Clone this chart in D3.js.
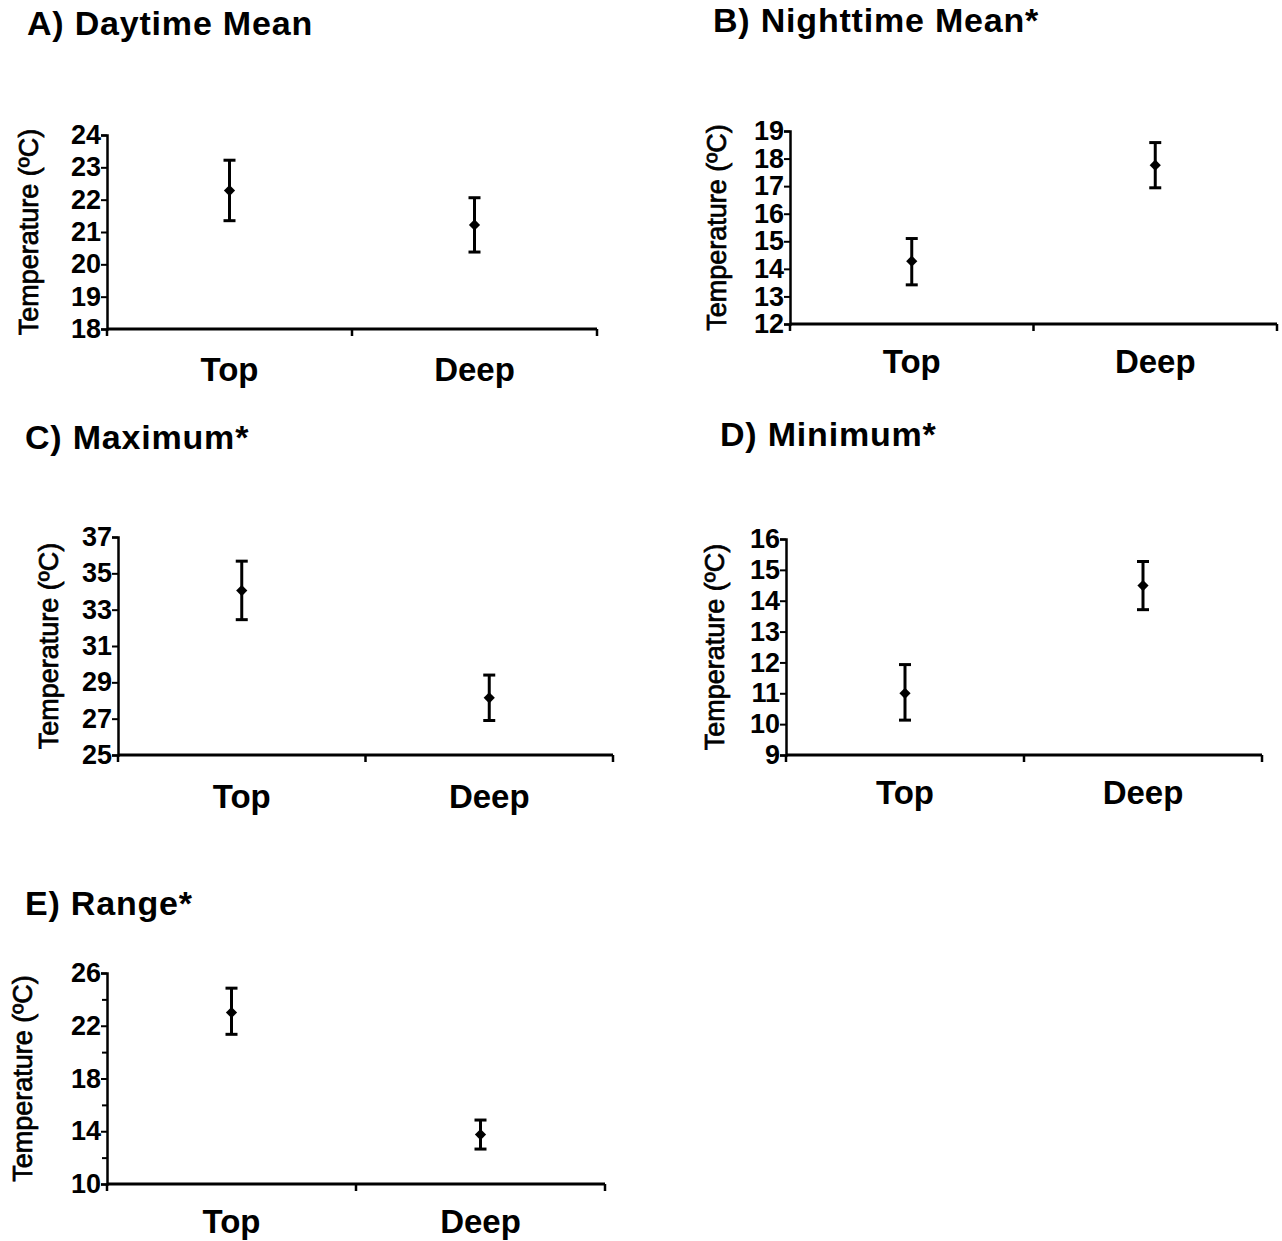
<!DOCTYPE html>
<html>
<head>
<meta charset="utf-8">
<script src="https://cdn.jsdelivr.net/npm/d3@7"></script>
<style>
  body { margin: 0; background: #fff; }
  svg { display: block; }
  text { font-family: "Liberation Sans", Arial, sans-serif; fill: #000; }
</style>
</head>
<body>
<div id="chart"></div>
<script>
// ---- data ----
const categories = ["Top", "Deep"];
const titles = ["A)  Daytime Mean", "B) Nighttime Mean*", "C)  Maximum*", "D) Minimum*", "E)  Range*"];
const means = [[22.28, 21.22], [14.28, 17.76], [34.05, 28.15], [11.0, 14.49], [23.0, 13.75]];
const errTop = [[23.22, 22.06], [15.1, 18.58], [35.67, 29.4], [11.93, 15.27], [24.85, 14.85]];
const errLow = [[21.35, 20.38], [13.42, 16.94], [32.45, 26.9], [10.13, 13.71], [21.35, 12.65]];
const yDomains = [[18, 24], [12, 19], [25, 37], [9, 16], [10, 26]];
const yTicks = [
  [18, 19, 20, 21, 22, 23, 24],
  [12, 13, 14, 15, 16, 17, 18, 19],
  [25, 27, 29, 31, 33, 35, 37],
  [9, 10, 11, 12, 13, 14, 15, 16],
  [10, 14, 18, 22, 26]
];
const yMinorTicks = [[], [], [], [], [12, 16, 20, 24]];
const yLabel = "Temperature (ºC)";

// ---- panel layout (pixels) ----
const panels = [
  { x0: 107, x1: 597, yTop: 135, yBot: 329, tx: 27, ty: 35, lx: 28, catY: 381 },
  { x0: 790, x1: 1277, yTop: 131, yBot: 324, tx: 713, ty: 32, lx: 716, catY: 373 },
  { x0: 118, x1: 613, yTop: 537, yBot: 755, tx: 25, ty: 449, lx: 48, catY: 808 },
  { x0: 786, x1: 1262, yTop: 539, yBot: 755, tx: 720, ty: 446, lx: 714, catY: 804 },
  { x0: 107, x1: 605, yTop: 973, yBot: 1184, tx: 25, ty: 915, lx: 22, catY: 1233 }
];

const svg = d3.select("#chart").append("svg")
  .attr("width", 1282)
  .attr("height", 1241);

panels.forEach(function(p, i) {
  const g = svg.append("g");

  const x = d3.scaleBand().domain(categories).range([p.x0, p.x1]).padding(0);
  const y = d3.scaleLinear().domain(yDomains[i]).range([p.yBot, p.yTop]);

  // title
  g.append("text")
    .attr("x", p.tx).attr("y", p.ty)
    .style("font-size", "34px").style("font-weight", "bold")
    .style("letter-spacing", "0.8px")
    .text(titles[i]);

  // y axis
  const yAxis = g.append("g")
    .attr("transform", "translate(" + p.x0 + ",0)")
    .call(d3.axisLeft(y).tickValues(yTicks[i]).tickSize(6).tickPadding(0).tickFormat(d3.format("d")));
  yAxis.select(".domain").attr("stroke-width", 2.5);
  yAxis.selectAll(".tick line").attr("stroke-width", 2);
  yAxis.selectAll(".tick text")
    .style("font-size", "27px").style("font-weight", "bold")
    .attr("fill", "#000");

  if (yMinorTicks[i].length) {
    const minor = g.append("g")
      .attr("transform", "translate(" + p.x0 + ",0)")
      .call(d3.axisLeft(y).tickValues(yMinorTicks[i]).tickSize(5).tickFormat(""));
    minor.select(".domain").remove();
    minor.selectAll(".tick line").attr("stroke-width", 2);
  }

  // x axis: baseline with ticks at band edges
  g.append("line")
    .attr("x1", p.x0).attr("x2", p.x1)
    .attr("y1", p.yBot).attr("y2", p.yBot)
    .attr("stroke", "#000").attr("stroke-width", 3);
  const edges = [p.x0, x(categories[1]), p.x1];
  g.selectAll(".xtick").data(edges).join("line")
    .attr("class", "xtick")
    .attr("x1", d => d).attr("x2", d => d)
    .attr("y1", p.yBot).attr("y2", p.yBot + 7)
    .attr("stroke", "#000").attr("stroke-width", 2.5);

  // category labels
  g.selectAll(".cat").data(categories).join("text")
    .attr("class", "cat")
    .attr("x", d => x(d) + x.bandwidth() / 2)
    .attr("y", p.catY)
    .attr("text-anchor", "middle")
    .style("font-size", "33px").style("font-weight", "bold")
    .text(d => d);

  // y label
  const cy = (p.yTop + p.yBot) / 2;
  g.append("text")
    .attr("transform", "translate(" + (p.lx + 10) + "," + cy + ") rotate(-90)")
    .attr("text-anchor", "middle")
    .style("font-size", "27px")
    .attr("stroke", "#000").attr("stroke-width", 0.7)
    .text(yLabel);

  // error bars + means
  const rows = categories.map(function(c, j) {
    return { cat: c, mean: means[i][j], hi: errTop[i][j], lo: errLow[i][j] };
  });
  const cx = d => x(d.cat) + x.bandwidth() / 2;
  const bars = g.selectAll(".bar").data(rows).join("g").attr("class", "bar");
  bars.append("line")
    .attr("x1", cx).attr("x2", cx)
    .attr("y1", d => y(d.hi)).attr("y2", d => y(d.lo))
    .attr("stroke", "#000").attr("stroke-width", 3);
  bars.append("line")
    .attr("x1", d => cx(d) - 6).attr("x2", d => cx(d) + 6)
    .attr("y1", d => y(d.hi)).attr("y2", d => y(d.hi))
    .attr("stroke", "#000").attr("stroke-width", 3);
  bars.append("line")
    .attr("x1", d => cx(d) - 6).attr("x2", d => cx(d) + 6)
    .attr("y1", d => y(d.lo)).attr("y2", d => y(d.lo))
    .attr("stroke", "#000").attr("stroke-width", 3);
  bars.append("path")
    .attr("transform", d => "translate(" + cx(d) + "," + y(d.mean) + ")")
    .attr("d", d3.symbol(d3.symbolDiamond2, 80))
    .attr("fill", "#000");
});
</script>
</body>
</html>
